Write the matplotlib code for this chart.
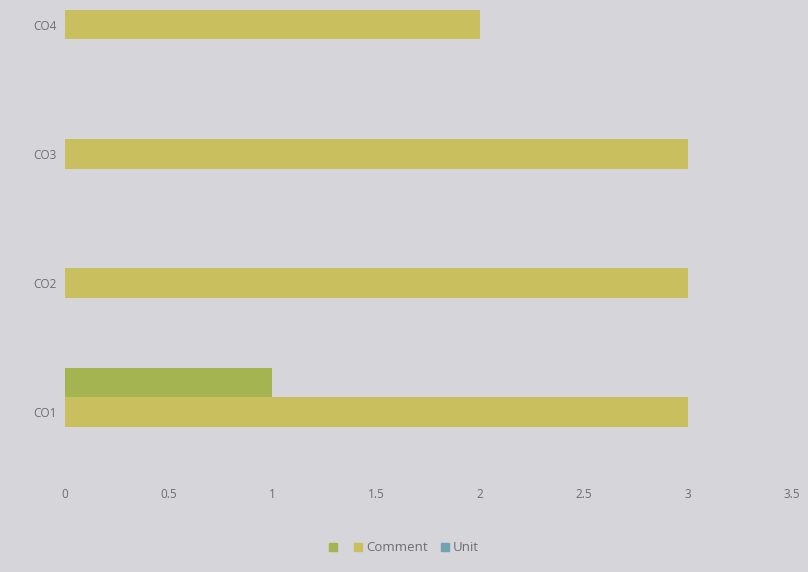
import numpy as np
import matplotlib.pyplot as plt
from matplotlib.patches import Patch

categories = ["CO1", "CO2", "CO3", "CO4"]
series_names = ["", "Comment", "Unit"]
first_vals = [1, 0, 0, 0]
comment_vals = [3, 3, 3, 2]
unit_vals = [0, 0, 0, 0]
x_ticks = [0, 0.5, 1, 1.5, 2, 2.5, 3, 3.5]

colors = ["#a4b450", "#c9bf5e", "#6fa3b4"]
text_col = "#6c6c72"
bg = "#d6d6da"

plt.rcParams["font.family"] = ["Open Sans", "DejaVu Sans"]

fig = plt.figure(figsize=(8.08, 5.72), dpi=100, facecolor=bg)
ax = fig.add_axes([0.08, 0.2, 0.9, 0.8], facecolor=bg)

y = np.arange(len(categories))
h = 0.23
# top to bottom inside each group: first series, Comment, Unit
ax.barh(y + h, first_vals, height=h, color=colors[0])
ax.barh(y, comment_vals, height=h, color=colors[1])
ax.barh(y - h, unit_vals, height=h, color=colors[2])

ax.set_xlim(0, 3.5)
ax.set_ylim(-0.35, 3.19)
ax.set_xticks(x_ticks)
ax.set_xticklabels([f"{t:g}" for t in x_ticks])
ax.set_yticks(y)
ax.set_yticklabels(categories)
ax.tick_params(length=0, colors=text_col, labelsize=8.5)
ax.tick_params(axis="x", pad=22)
ax.tick_params(axis="y", pad=6)
for s in ax.spines.values():
    s.set_visible(False)

handles = [Patch(color=c) for c in colors]
fig.legend(handles, series_names, loc="lower center", bbox_to_anchor=(0.5, 0.01),
           ncol=3, frameon=False, fontsize=9.5, labelcolor=text_col,
           handlelength=0.6, handleheight=0.6, handletextpad=0.3, columnspacing=1.0)

fig.savefig("out.png", dpi=100, facecolor=bg)
